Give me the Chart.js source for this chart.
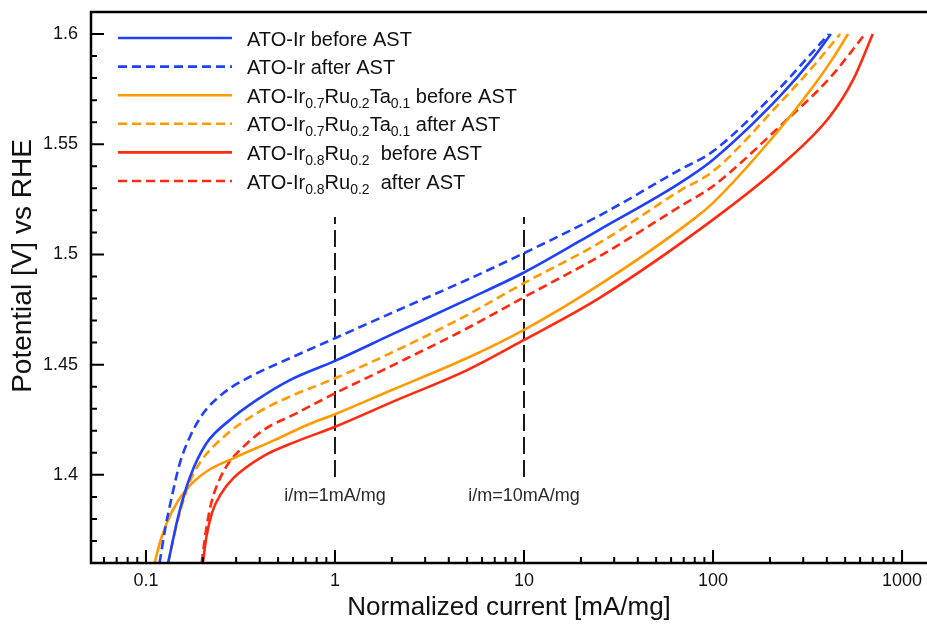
<!DOCTYPE html>
<html><head><meta charset="utf-8">
<script src="https://cdn.jsdelivr.net/npm/chart.js@4/dist/chart.umd.min.js"></script>
<style>html,body{margin:0;padding:0;background:#fff;overflow:hidden}canvas{display:block}</style>
</head><body>
<canvas id="c" width="927" height="627"></canvas>
<script>
// ---- series labels ----
const seriesLabels = [
  'ATO-Ir before AST',
  'ATO-Ir after AST',
  'ATO-Ir0.7Ru0.2Ta0.1 before AST',
  'ATO-Ir0.7Ru0.2Ta0.1 after AST',
  'ATO-Ir0.8Ru0.2 before AST',
  'ATO-Ir0.8Ru0.2 after AST'
];
// legend text pieces: [text, isSubscript]
const legendParts = [
  [['ATO-Ir before AST', 0]],
  [['ATO-Ir after AST', 0]],
  [['ATO-Ir', 0], ['0.7', 1], ['Ru', 0], ['0.2', 1], ['Ta', 0], ['0.1', 1], [' before AST', 0]],
  [['ATO-Ir', 0], ['0.7', 1], ['Ru', 0], ['0.2', 1], ['Ta', 0], ['0.1', 1], [' after AST', 0]],
  [['ATO-Ir', 0], ['0.8', 1], ['Ru', 0], ['0.2', 1], ['  before AST', 0]],
  [['ATO-Ir', 0], ['0.8', 1], ['Ru', 0], ['0.2', 1], ['  after AST', 0]]
];

// ---- data: normalized current [mA/mg] and potential [V vs RHE] ----
const irBeforeCurrent   = [0.131, 0.148, 0.171, 0.209, 0.278, 0.386, 0.577, 1, 2, 5, 10, 25, 67, 100, 226, 340, 420];
const irBeforePotential = [1.36, 1.381, 1.399, 1.4143, 1.4249, 1.434, 1.443, 1.4517, 1.4637, 1.4795, 1.4918, 1.5112, 1.5325, 1.543, 1.5718, 1.5893, 1.6];

const irAfterCurrent   = [0.118, 0.126, 0.137, 0.151, 0.171, 0.201, 0.256, 0.355, 0.577, 1, 2, 5, 10, 25, 67, 100, 226, 340, 410];
const irAfterPotential = [1.36, 1.3749, 1.39, 1.4052, 1.4173, 1.4279, 1.437, 1.4445, 1.4529, 1.462, 1.4735, 1.4885, 1.5006, 1.5176, 1.5385, 1.5468, 1.5756, 1.5923, 1.6];

const irRuTaBeforeCurrent   = [0.111, 0.121, 0.137, 0.164, 0.209, 0.29, 0.472, 0.708, 1, 2, 5, 10, 25, 78.3, 100, 217, 340, 433, 518];
const irRuTaBeforePotential = [1.36, 1.3718, 1.3832, 1.3935, 1.4015, 1.4075, 1.4155, 1.4225, 1.4275, 1.4385, 1.453, 1.4658, 1.4862, 1.5158, 1.5234, 1.5552, 1.5764, 1.5893, 1.6];

const irRuTaAfterCurrent   = [0.131, 0.148, 0.171, 0.193, 0.256, 0.386, 0.577, 1, 2, 5, 10, 25, 67, 100, 226, 340, 470];
const irRuTaAfterPotential = [1.36, 1.38, 1.397, 1.4055, 1.417, 1.428, 1.4355, 1.4438, 1.4555, 1.4725, 1.487, 1.5052, 1.529, 1.5377, 1.5688, 1.5855, 1.6];

const irRuBeforeCurrent   = [0.2, 0.209, 0.224, 0.25, 0.29, 0.418, 0.627, 1, 2, 5, 10, 25, 100, 226, 416, 552, 700];
const irRuBeforePotential = [1.36, 1.372, 1.383, 1.3915, 1.3985, 1.4085, 1.4152, 1.4218, 1.433, 1.4475, 1.4612, 1.4802, 1.5158, 1.54, 1.5627, 1.5794, 1.6];

const irRuAfterCurrent   = [0.197, 0.208, 0.222, 0.247, 0.278, 0.314, 0.418, 0.627, 1, 2, 5, 10, 25, 67, 100, 226, 416, 637];
const irRuAfterPotential = [1.36, 1.375, 1.3875, 1.3985, 1.4062, 1.4112, 1.4203, 1.428, 1.437, 1.4495, 1.4665, 1.4806, 1.4991, 1.5218, 1.531, 1.5582, 1.5802, 1.6];

// ---- reference lines ----
const guideCurrents = [1, 10];
const guideLabels = ['i/m=1mA/mg', 'i/m=10mA/mg'];
const guidePotentials = [1.399, 1.517];

// ---- axes ----
const xLimits = [0.0512, 1355];
const yLimits = [1.36, 1.61];
const xMajorTicks = [0.1, 1, 10, 100, 1000];
const xTickLabels = ['0.1', '1', '10', '100', '1000'];
const xMinorTicks = [0.06, 0.07, 0.08, 0.09, 0.2, 0.3, 0.4, 0.5, 0.6, 0.7, 0.8, 0.9,
  2, 3, 4, 5, 6, 7, 8, 9, 20, 30, 40, 50, 60, 70, 80, 90, 200, 300, 400, 500, 600, 700, 800, 900];
const yMajorTicks = [1.4, 1.45, 1.5, 1.55, 1.6];
const yTickLabels = ['1.4', '1.45', '1.5', '1.55', '1.6'];
const yMinorTicks = [1.37, 1.38, 1.39, 1.41, 1.42, 1.43, 1.44, 1.46, 1.47, 1.48, 1.49,
  1.51, 1.52, 1.53, 1.54, 1.56, 1.57, 1.58, 1.59, 1.61];
const xTitle = 'Normalized current [mA/mg]';
const yTitle = 'Potential [V] vs RHE';

const BLUE = '#2040ff', ORANGE = '#ff9a00', RED = '#ff2a10';
const FONT = '"Liberation Sans", Arial, Helvetica, sans-serif';

function pts(xs, ys) { return xs.map((v, i) => ({ x: v, y: ys[i] })); }

const seriesStyle = [
  { color: BLUE, dash: [] }, { color: BLUE, dash: [9, 5] },
  { color: ORANGE, dash: [] }, { color: ORANGE, dash: [9, 5] },
  { color: RED, dash: [] }, { color: RED, dash: [9, 5] }
];
const seriesData = [
  pts(irBeforeCurrent, irBeforePotential),
  pts(irAfterCurrent, irAfterPotential),
  pts(irRuTaBeforeCurrent, irRuTaBeforePotential),
  pts(irRuTaAfterCurrent, irRuTaAfterPotential),
  pts(irRuBeforeCurrent, irRuBeforePotential),
  pts(irRuAfterCurrent, irRuAfterPotential)
];

const datasets = seriesData.map((d, i) => ({
  label: seriesLabels[i],
  data: d,
  borderColor: seriesStyle[i].color,
  borderDash: seriesStyle[i].dash,
  borderWidth: 2.6,
  pointRadius: 0,
  fill: false,
  cubicInterpolationMode: 'monotone'
}));
guideCurrents.forEach((g, i) => {
  datasets.push({
    label: guideLabels[i],
    data: [{ x: g, y: guidePotentials[0] }, { x: g, y: guidePotentials[1] }],
    borderColor: '#1a1a1a',
    borderDash: [17, 6],
    borderWidth: 2,
    pointRadius: 0,
    tension: 0,
    fill: false
  });
});

const decorPlugin = {
  id: 'decor',
  afterDraw(chart) {
    const { ctx, chartArea: a, scales: { x, y } } = chart;
    ctx.save();
    // frame
    ctx.strokeStyle = '#000';
    ctx.lineWidth = 2.5;
    ctx.beginPath();
    ctx.moveTo(chart.width, a.top);
    ctx.lineTo(a.left, a.top);
    ctx.lineTo(a.left, a.bottom);
    ctx.lineTo(chart.width, a.bottom);
    ctx.stroke();
    // inward ticks
    ctx.lineWidth = 2;
    ctx.beginPath();
    xMajorTicks.forEach(v => { const p = x.getPixelForValue(v); ctx.moveTo(p, a.bottom); ctx.lineTo(p, a.bottom - 13); });
    xMinorTicks.forEach(v => { const p = x.getPixelForValue(v); ctx.moveTo(p, a.bottom); ctx.lineTo(p, a.bottom - 6); });
    yMajorTicks.forEach(v => { const p = y.getPixelForValue(v); ctx.moveTo(a.left, p); ctx.lineTo(a.left + 13, p); });
    yMinorTicks.forEach(v => { const p = y.getPixelForValue(v); ctx.moveTo(a.left, p); ctx.lineTo(a.left + 6, p); });
    ctx.stroke();
    // y axis title
    ctx.save();
    ctx.translate(23, 266);
    ctx.rotate(-Math.PI / 2);
    ctx.fillStyle = '#111';
    ctx.font = '28px ' + FONT;
    ctx.textAlign = 'center';
    ctx.textBaseline = 'middle';
    ctx.fillText(yTitle, 0, 0);
    ctx.restore();
    // guide labels
    ctx.fillStyle = '#2a2a2a';
    ctx.font = '18px ' + FONT;
    ctx.textAlign = 'center';
    ctx.textBaseline = 'middle';
    guideCurrents.forEach((g, i) => {
      ctx.fillText(guideLabels[i], x.getPixelForValue(g), y.getPixelForValue(guidePotentials[0]) + 19);
    });
    // legend
    const lx0 = a.left + 27, lx1 = a.left + 141, tx = a.left + 156;
    ctx.textAlign = 'left';
    ctx.textBaseline = 'alphabetic';
    ctx.fillStyle = '#111';
    legendParts.forEach((parts, i) => {
      const ry = a.top + 26 + i * 28.6;
      ctx.strokeStyle = seriesStyle[i].color;
      ctx.lineWidth = 2.6;
      ctx.setLineDash(seriesStyle[i].dash);
      ctx.beginPath(); ctx.moveTo(lx0, ry); ctx.lineTo(lx1, ry); ctx.stroke();
      ctx.setLineDash([]);
      let cx = tx;
      parts.forEach(([t, sub]) => {
        ctx.font = (sub ? '14px ' : '20px ') + FONT;
        ctx.fillText(t, cx, ry + 7.5 + (sub ? 5 : 0));
        cx += ctx.measureText(t).width;
      });
    });
    ctx.restore();
  }
};

new Chart(document.getElementById('c'), {
  type: 'line',
  data: { datasets },
  options: {
    responsive: false,
    animation: false,
    events: [],
    layout: { padding: { top: 12, right: 0, left: 0, bottom: 0 } },
    plugins: { legend: { display: false }, tooltip: { enabled: false } },
    scales: {
      x: {
        type: 'logarithmic',
        min: xLimits[0], max: xLimits[1],
        grid: { display: false, drawTicks: false },
        border: { display: false },
        afterBuildTicks: s => { s.ticks = xMajorTicks.map(v => ({ value: v })); },
        afterFit: s => { s.height = 64; s.paddingLeft = 0; s.paddingRight = 0; },
        ticks: {
          autoSkip: false, maxRotation: 0, padding: 7, color: '#111',
          font: { size: 18, family: FONT },
          callback: (v) => { const i = xMajorTicks.indexOf(v); return i >= 0 ? xTickLabels[i] : ''; }
        },
        title: { display: true, text: xTitle, color: '#111', font: { size: 26, family: FONT }, padding: { top: 0, bottom: 4 } }
      },
      y: {
        type: 'linear',
        min: yLimits[0], max: yLimits[1],
        grid: { display: false, drawTicks: false },
        border: { display: false },
        afterBuildTicks: s => { s.ticks = yMajorTicks.map(v => ({ value: v })); },
        afterFit: s => { s.width = 91; s.paddingTop = 0; s.paddingBottom = 0; },
        ticks: {
          autoSkip: false, padding: 13, color: '#111',
          font: { size: 18, family: FONT },
          callback: (v) => { const i = yMajorTicks.findIndex(t => Math.abs(t - v) < 1e-9); return i >= 0 ? yTickLabels[i] : ''; }
        },
        title: { display: false }
      }
    }
  },
  plugins: [decorPlugin]
});
</script>
</body></html>
